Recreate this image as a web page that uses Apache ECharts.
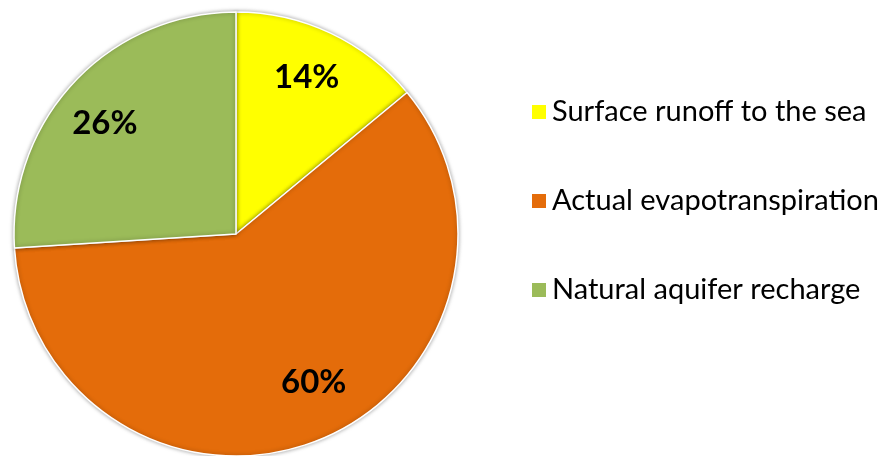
<!DOCTYPE html>
<html>
<head>
<meta charset="utf-8">
<title></title>
<style>
  html, body { margin: 0; padding: 0; background: #fff; }
</style>
</head>
<body>
<div id="chart" style="width: 889px; height: 456px;"></div>
<script src="https://cdn.jsdelivr.net/npm/echarts@6/dist/echarts.min.js"></script>
<script>
// data
var categories = ['Surface runoff to the sea', 'Actual evapotranspiration', 'Natural aquifer recharge'];
var shares = [14, 60, 26];
var colors = ['#FFFF00', '#E46C0A', '#9BBB59'];
// nudges so the percent labels sit where the original put them
var labelNudge = [[-3, 0], [14, -12], [-5, 8]];

var pieData = categories.map(function (name, i) {
    return { name: name, value: shares[i], itemStyle: { color: colors[i] } };
});
var labelData = categories.map(function (name, i) {
    return { name: name, value: shares[i], label: { offset: labelNudge[i] } };
});

var option = {
    animation: false,
    legend: {
        orient: 'vertical',
        left: 525,
        top: 92,
        itemWidth: 16,
        itemHeight: 16,
        itemGap: 59,
        icon: 'rect',
        textStyle: {
            fontFamily: 'Lato',
            fontSize: 29,
            lineHeight: 30,
            color: '#000',
            padding: [0, 0, 0, 0]
        },
        data: categories
    },
    series: [
        {
            type: 'pie',
            center: [236, 234],
            radius: [0, 222],
            startAngle: 90,
            clockwise: true,
            label: { show: false },
            labelLine: { show: false },
            emphasis: { disabled: true },
            itemStyle: {
                borderColor: '#fff',
                borderWidth: 1.5,
                shadowBlur: 4,
                shadowColor: 'rgba(0,0,0,0.35)'
            },
            data: pieData
        },
        {
            // invisible ring, only used to place the percent labels
            type: 'pie',
            center: [236, 234],
            radius: [118, 222],
            startAngle: 90,
            clockwise: true,
            silent: true,
            legendHoverLink: false,
            itemStyle: { color: 'rgba(0,0,0,0)' },
            label: {
                show: true,
                position: 'inside',
                formatter: '{c}%',
                fontFamily: 'Lato',
                fontWeight: 'bold',
                fontSize: 33,
                color: '#000'
            },
            labelLine: { show: false },
            data: labelData
        }
    ]
};

var chart = echarts.init(document.getElementById('chart'));
chart.setOption(option);
</script>
</body>
</html>
